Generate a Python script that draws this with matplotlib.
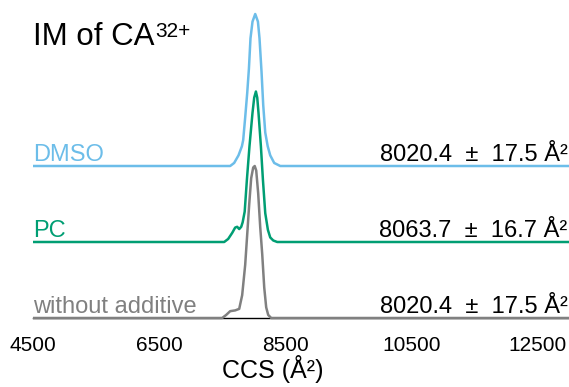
import matplotlib

matplotlib.use("Agg")
import matplotlib.pyplot as plt

plt.rcParams["font.family"] = ["Liberation Sans", "DejaVu Sans"]

# traces (CCS in A^2, normalised intensity)
gray_ccs = [4500, 7500, 7563, 7627, 7706, 7770, 7817, 7865, 7897, 7929, 7960,
            7992, 8016, 8040, 8071, 8103, 8135, 8167, 8198, 8230, 8278, 13000]
gray_int = [0, 0, 0.02, 0.045, 0.05, 0.06, 0.15, 0.35, 0.55, 0.75, 0.92,
            0.99, 1.0, 0.97, 0.82, 0.6, 0.42, 0.2, 0.07, 0.02, 0, 0]

green_ccs = [4500, 7532, 7595, 7659, 7706, 7738, 7770, 7802, 7825, 7857, 7892,
             7933, 7981, 8008, 8035, 8056, 8076, 8114, 8146, 8183, 8225, 8262,
             8310, 8373, 13000]
green_int = [0, 0, 0.02, 0.06, 0.095, 0.10, 0.085, 0.10, 0.13, 0.20, 0.41,
             0.63, 0.85, 0.95, 0.99, 0.95, 0.85, 0.63, 0.41, 0.19, 0.08, 0.03,
             0.01, 0, 0]

blue_ccs = [4500, 7627, 7690, 7759, 7813, 7833, 7865, 7897, 7924, 7949, 7981,
            8024, 8067, 8092, 8124, 8151, 8183, 8222, 8262, 8325, 8421, 13000]
blue_int = [0, 0, 0.02, 0.07, 0.13, 0.17, 0.32, 0.48, 0.64, 0.84, 0.95,
            1.0, 0.95, 0.84, 0.62, 0.40, 0.22, 0.13, 0.07, 0.02, 0, 0]

labels = ["without additive", "PC", "DMSO"]
ccs_text = ["8020.4  \u00b1  17.5 \u00c5\u00b2",
            "8063.7  \u00b1  16.7 \u00c5\u00b2",
            "8020.4  \u00b1  17.5 \u00c5\u00b2"]
xticks = [4500, 6500, 8500, 10500, 12500]

colors = ["#808080", "#009E73", "#6CBDE9"]
offsets = [0.0, 0.5, 1.0]

fig = plt.figure(figsize=(5.69, 3.87), dpi=100)
ax = fig.add_axes([33 / 569, 69 / 387, 536 / 569, 2.05 * 152 / 387])

series = [(gray_ccs, gray_int), (green_ccs, green_int), (blue_ccs, blue_int)]
for (xs, ys), off, col, lab, txt in zip(series, offsets, colors, labels, ccs_text):
    ax.plot(xs, [y + off for y in ys], color=col, lw=1.8, zorder=3,
            solid_capstyle="butt", clip_on=False)
    ax.text(4500, off + 0.035, lab, color=col, fontsize=17, ha="left", va="baseline")
    ax.text(12975, off + 0.035, txt, color="black", fontsize=17, ha="right", va="baseline")

ax.set_xlim(4500, 13000)
ax.set_ylim(0, 2.05)
ax.set_xticks(xticks)
ax.set_yticks([])
ax.tick_params(axis="x", length=0, pad=13, labelsize=15)
for side in ["left", "top", "right"]:
    ax.spines[side].set_visible(False)
ax.spines["bottom"].set_linewidth(1.0)
ax.spines["bottom"].set_zorder(2)

ax.set_xlabel("CCS (\u00c5\u00b2)", fontsize=18)
ax.xaxis.set_label_coords(240 / 536, -0.12)

fig.text(33 / 569, (387 - 45) / 387, "IM of CA",
         fontsize=22.5, ha="left", va="baseline")
fig.text(155 / 569, (387 - 37) / 387, "32+",
         fontsize=15, ha="left", va="baseline")

fig.savefig("out.png", dpi=100, facecolor="white")
